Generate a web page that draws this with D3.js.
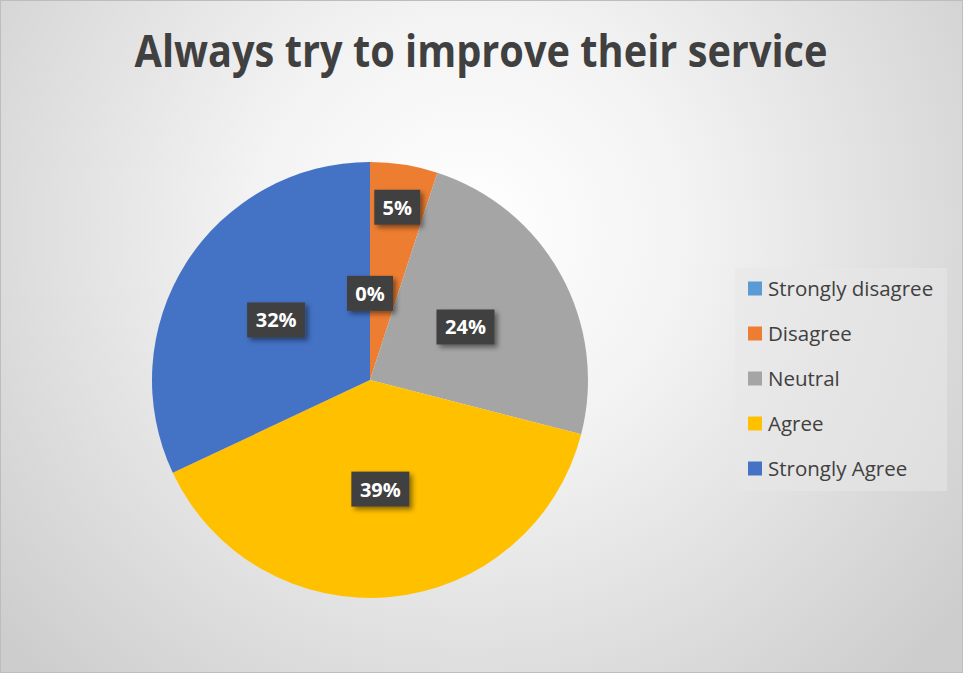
<!DOCTYPE html>
<html lang="en">
<head>
<meta charset="UTF-8">
<title>Always try to improve their service</title>
<script src="https://d3js.org/d3.v7.min.js"></script>
<style>
  html, body { margin: 0; padding: 0; background: #fff; }
</style>
</head>
<body>
<div id="chart"></div>
<script>
// chart data
const categories = ["Strongly disagree", "Disagree", "Neutral", "Agree", "Strongly Agree"];
const values = [0, 5, 24, 39, 32];
const colors = ["#5B9BD5", "#ED7D31", "#A5A5A5", "#FFC000", "#4472C4"];
const title = "Always try to improve their service";

const width = 963, height = 673;
const cx = 370, cy = 380, radius = 218;

// label distance from centre, as a share of the radius (Excel "best fit" look)
const labelRadius = [0.395, 0.8, 0.5, 0.505, 0.51];

const svg = d3.select("#chart").append("svg")
    .attr("width", width)
    .attr("height", height)
    .style("font-family", "'Open Sans', 'Noto Sans', sans-serif");

const defs = svg.append("defs");
const bg = defs.append("radialGradient")
    .attr("id", "bg")
    .attr("gradientUnits", "userSpaceOnUse")
    .attr("cx", 470).attr("cy", 230).attr("r", 620);
bg.append("stop").attr("offset", "0%").attr("stop-color", "#ffffff");
bg.append("stop").attr("offset", "35%").attr("stop-color", "#f3f3f3");
bg.append("stop").attr("offset", "100%").attr("stop-color", "#cdcdcd");

const shadow = defs.append("filter").attr("id", "shadow")
    .attr("x", "-20%").attr("y", "-20%").attr("width", "150%").attr("height", "160%");
shadow.append("feDropShadow")
    .attr("dx", 3).attr("dy", 3).attr("stdDeviation", 2.5)
    .attr("flood-color", "#000").attr("flood-opacity", 0.45);

svg.append("rect")
    .attr("x", 0.5).attr("y", 0.5)
    .attr("width", width - 1).attr("height", height - 1)
    .attr("fill", "url(#bg)")
    .attr("stroke", "#bdbdbd");

// title
svg.append("text")
    .attr("x", 481).attr("y", 67)
    .attr("text-anchor", "middle")
    .attr("font-size", 44)
    .attr("font-weight", "bold")
    .attr("fill", "#404040")
    .attr("textLength", 693)
    .attr("lengthAdjust", "spacingAndGlyphs")
    .text(title);

// pie
const pie = d3.pie().sort(null).value(d => d)(values);
const arc = d3.arc().innerRadius(0).outerRadius(radius);

const g = svg.append("g").attr("transform", `translate(${cx},${cy})`);

g.selectAll("path")
    .data(pie)
    .join("path")
    .attr("d", arc)
    .attr("fill", (d, i) => colors[i]);

// data labels
const labels = g.selectAll("g.label")
    .data(pie)
    .join("g")
    .attr("class", "label")
    .attr("transform", (d, i) => {
        const r = radius * labelRadius[i];
        const la = d3.arc().innerRadius(r).outerRadius(r);
        const c = la.centroid(d);
        return `translate(${c[0]},${c[1]})`;
    });

labels.append("rect")
    .attr("x", d => d.value >= 10 ? -29 : -23)
    .attr("y", -18)
    .attr("width", d => d.value >= 10 ? 58 : 46)
    .attr("height", 35)
    .attr("fill", "#404040")
    .attr("filter", "url(#shadow)");

labels.append("text")
    .attr("text-anchor", "middle")
    .attr("dy", "0.35em")
    .attr("font-size", 20)
    .attr("font-weight", "bold")
    .attr("fill", "#ffffff")
    .text(d => d.value + "%");

// legend
const legend = svg.append("g");
legend.append("rect")
    .attr("x", 735).attr("y", 268)
    .attr("width", 212).attr("height", 223)
    .attr("fill", "#e8e8e8")
    .attr("opacity", 0.55);

const legendY = d3.scaleBand().domain(categories).range([266, 491]);

const item = legend.selectAll("g.item")
    .data(categories)
    .join("g")
    .attr("class", "item")
    .attr("transform", d => `translate(748,${legendY(d) + legendY.bandwidth() / 2})`);

item.append("rect")
    .attr("x", 0).attr("y", -7)
    .attr("width", 14).attr("height", 14)
    .attr("fill", (d, i) => colors[i]);

item.append("text")
    .attr("x", 20)
    .attr("dy", "0.35em")
    .attr("font-size", 20.5)
    .attr("fill", "#404040")
    .text(d => d);
</script>
</body>
</html>
